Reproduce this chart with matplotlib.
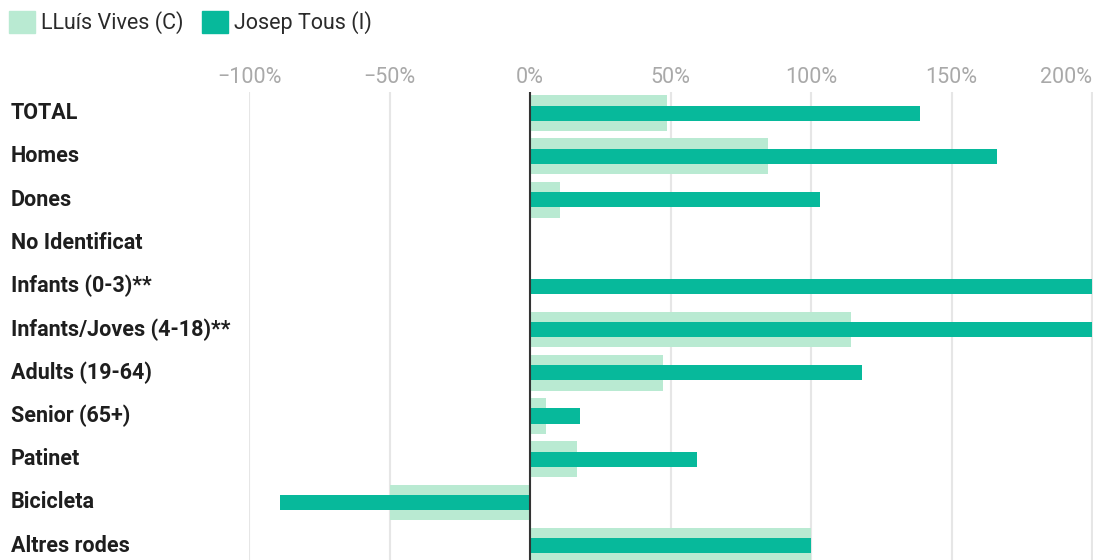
import matplotlib
matplotlib.use("Agg")
from matplotlib import pyplot as plt
from matplotlib.patches import Patch
import numpy as np

categories = ["TOTAL", "Homes", "Dones", "No Identificat", "Infants (0-3)**",
              "Infants/Joves (4-18)**", "Adults (19-64)", "Senior (65+)",
              "Patinet", "Bicicleta", "Altres rodes"]
# % change, LLuís Vives (C) and Josep Tous (I); NaN = no bar
vives = [48.6, 84.7, 10.7, np.nan, np.nan, 114.1, 47.4, 5.6, 16.6, -50.0, 100.0]
tous = [138.6, 166.3, 103.3, np.nan, 200.0, 200.0, 118.1, 17.8, 59.5, -88.9, 100.0]
series_names = ["LLuís Vives (C)", "Josep Tous (I)"]
xticks = [-100, -50, 0, 50, 100, 150, 200]

light = "#b9ead2"
dark = "#07b99b"

plt.rcParams['font.family'] = ['Roboto', 'DejaVu Sans']

fig = plt.figure(figsize=(10.95, 5.6), dpi=100)
ax = fig.add_axes([249 / 1095, 0, 844 / 1095, 468 / 560])

y = np.arange(len(categories))
ax.barh(y, np.nan_to_num(vives), height=0.83, color=light, zorder=2)
ax.barh(y, np.nan_to_num(tous), height=0.35, color=dark, zorder=3)

ax.set_xlim(-100, 200.3)
ax.set_ylim(10.33, -0.49)
ax.axvline(0, color="#333333", lw=1.5, zorder=4)

ax.xaxis.tick_top()
ax.set_xticks(xticks)
ax.set_xticklabels([f"{t}%".replace("-", "\u2212") for t in xticks])
ax.tick_params(axis="x", length=0, pad=3, labelsize=15.5, labelcolor="#a9a9a9")
ax.get_xticklabels()[-1].set_horizontalalignment("right")
ax.set_yticks([])
ax.grid(axis="x", color="#e6e6e6", lw=1.5, zorder=0)
for s in ax.spines.values():
    s.set_visible(False)

for i, c in enumerate(categories):
    ax.text((11 - 249) / 844, i, c, transform=ax.get_yaxis_transform(),
            ha="left", va="center", fontsize=15.5, fontweight="bold",
            color="#1e1e1e")

handles = [Patch(color=light), Patch(color=dark)]
fig.legend(handles, series_names, loc="upper left",
           bbox_to_anchor=(9 / 1095, 1 - 11 / 560), frameon=False,
           ncol=2, fontsize=15.5, handlelength=1.2, handleheight=1.2,
           handletextpad=0.3, columnspacing=0.85, borderpad=0,
           borderaxespad=0, labelcolor="#2a2a2a")

fig.savefig("out.png", dpi=100)
